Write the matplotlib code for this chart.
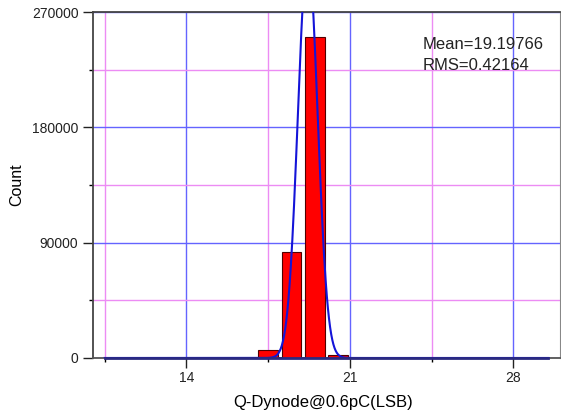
import numpy as np
import matplotlib.pyplot as plt
from matplotlib.ticker import MultipleLocator, FixedLocator

plt.rcParams['font.family'] = ['Liberation Sans', 'DejaVu Sans']

# histogram bins (LSB) and counts
bin_centers = [17.5, 18.5, 19.5, 20.5]
counts = [6000, 82700, 250500, 2000]

# gaussian fit parameters
fit_mean = 19.19766
fit_rms = 0.42164
fit_amp = 315000
fit_range = [10.5, 29.5]

fig = plt.figure(figsize=(5.61, 4.11), dpi=100)
ax = fig.add_axes([0.1658, 0.129, 0.8324, 0.8418])

ax.bar(bin_centers, counts, width=0.85, color='#ff0000', edgecolor='#500000',
       linewidth=0.8, zorder=3)

xf = np.linspace(fit_range[0], fit_range[1], 800)
yf = fit_amp * np.exp(-0.5 * ((xf - fit_mean) / fit_rms) ** 2)
ax.plot(xf, yf, color='#1414d8', lw=1.5, zorder=4)
# dark baseline of the fit along zero
ax.plot(fit_range, [0, 0], color='#2a2a80', lw=2, zorder=5, clip_on=False)

ax.set_xlim(10, 30)
ax.set_ylim(0, 270000)
ax.xaxis.set_major_locator(FixedLocator([14, 21, 28]))
ax.xaxis.set_minor_locator(FixedLocator([10.5, 17.5, 24.5]))
ax.yaxis.set_major_locator(MultipleLocator(90000))
ax.yaxis.set_minor_locator(MultipleLocator(45000))

ax.grid(which='major', color='#6464ff', lw=1.0, zorder=0)
ax.grid(which='minor', color='#ec8cf4', lw=1.0, zorder=0)
ax.set_axisbelow(True)

ax.tick_params(which='major', direction='out', length=7, width=1, labelsize=10,
               colors='#222222')
ax.tick_params(which='minor', direction='out', length=3, width=1)
ax.tick_params(axis='x', pad=2.5)

for s in ['left', 'top']:
    ax.spines[s].set_color('#444444')
    ax.spines[s].set_linewidth(1.3)
ax.spines['right'].set_color('#888888')
ax.spines['bottom'].set_color('#555555')
ax.spines['bottom'].set_linewidth(1.3)

ax.set_xlabel('Q-Dynode@0.6pC(LSB)', fontsize=12)
ax.xaxis.set_label_coords(0.493, -0.107)
ax.set_ylabel('Count', fontsize=11.5)
ax.yaxis.set_label_coords(-0.148, 0.5)

ax.text(0.705, 0.905, 'Mean=%.5f' % fit_mean, transform=ax.transAxes,
        fontsize=12, color='#222222', va='center')
ax.text(0.705, 0.845, 'RMS=%.5f' % fit_rms, transform=ax.transAxes,
        fontsize=12, color='#222222', va='center')

fig.savefig('out.png', dpi=100)
